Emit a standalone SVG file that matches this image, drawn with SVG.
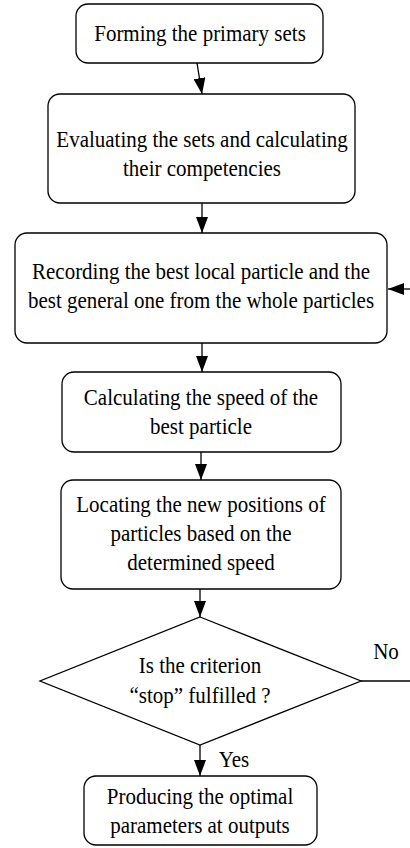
<svg xmlns="http://www.w3.org/2000/svg" width="410" height="848" viewBox="0 0 410 848">
<style>
.box{fill:#fff;stroke:#000;stroke-width:1.3}
.t{font-family:'Liberation Serif','Times New Roman',serif;font-size:21px;fill:#000;text-anchor:middle}
.c{stroke:#000;stroke-width:1.3;fill:none}
</style>
<defs>
<marker id="ah" viewBox="0 0 16 12" refX="16" refY="6" markerWidth="16" markerHeight="12" markerUnits="userSpaceOnUse" orient="auto">
<path d="M0,0 L16,6 L0,12 Z" fill="#000"/>
</marker>
</defs>
<rect width="410" height="848" fill="#fff"/>
<g id="connectors">
<line class="c" x1="197" y1="63" x2="202" y2="94" marker-end="url(#ah)"/>
<line class="c" x1="202" y1="203" x2="202" y2="233" marker-end="url(#ah)"/>
<line class="c" x1="410" y1="289" x2="388" y2="289" marker-end="url(#ah)"/>
<line class="c" x1="202" y1="343" x2="202" y2="372" marker-end="url(#ah)"/>
<line class="c" x1="201" y1="452" x2="201" y2="480" marker-end="url(#ah)"/>
<line class="c" x1="200" y1="589" x2="200" y2="617" marker-end="url(#ah)"/>
<line class="c" x1="361" y1="681" x2="410" y2="681"/>
<line class="c" x1="200" y1="745" x2="200" y2="776" marker-end="url(#ah)"/>
<text class="t" transform="translate(386,659) scale(1,1.12)">No</text>
<text class="t" transform="translate(234,767) scale(1,1.12)">Yes</text>
</g>
<g id="n1">
<rect class="box" x="76" y="4" width="247" height="59" rx="12"/>
<text class="t" transform="translate(200,41) scale(1,1.12)">Forming the primary sets</text>
</g>
<g id="n2">
<rect class="box" x="48" y="94" width="307" height="109" rx="12"/>
<text class="t" transform="translate(202,147) scale(1,1.12)">Evaluating the sets and calculating</text>
<text class="t" transform="translate(202,176) scale(1,1.12)">their competencies</text>
</g>
<g id="n3">
<rect class="box" x="15" y="233" width="372" height="110" rx="12"/>
<text class="t" transform="translate(201,279) scale(1,1.12)">Recording the best local particle and the</text>
<text class="t" transform="translate(201,308) scale(1,1.12)">best general one from the whole particles</text>
</g>
<g id="n4">
<rect class="box" x="62" y="372" width="279" height="80" rx="12"/>
<text class="t" transform="translate(201,405) scale(1,1.12)">Calculating the speed of the</text>
<text class="t" transform="translate(201,434) scale(1,1.12)">best particle</text>
</g>
<g id="n5">
<rect class="box" x="61" y="480" width="280" height="109" rx="12"/>
<text class="t" transform="translate(201,512) scale(1,1.12)">Locating the new positions of</text>
<text class="t" transform="translate(201,541) scale(1,1.12)">particles based on the</text>
<text class="t" transform="translate(201,570) scale(1,1.12)">determined speed</text>
</g>
<g id="n6">
<polygon class="box" points="200,617 361,681 200,745 40,681"/>
<text class="t" transform="translate(200,673) scale(1,1.12)">Is the criterion</text>
<text class="t" transform="translate(200,703) scale(1,1.12)">“stop” fulfilled ?</text>
</g>
<g id="n7">
<rect class="box" x="84" y="776" width="233" height="69" rx="12"/>
<text class="t" transform="translate(200,804) scale(1,1.12)">Producing the optimal</text>
<text class="t" transform="translate(200,833) scale(1,1.12)">parameters at outputs</text>
</g>
</svg>
